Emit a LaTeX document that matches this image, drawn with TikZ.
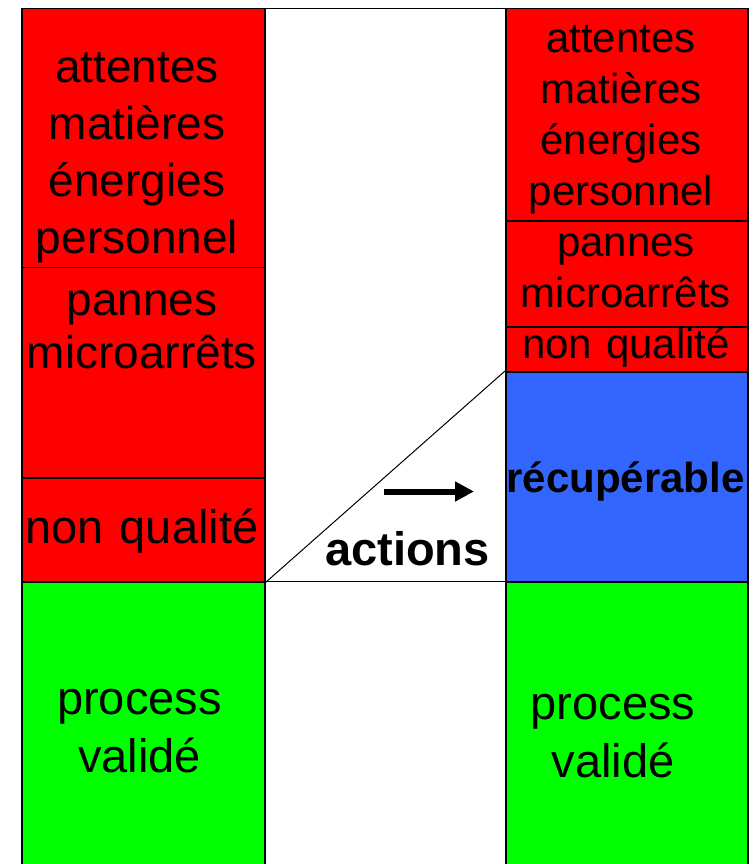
\documentclass[tikz,border=0pt]{standalone}
\usepackage{fontspec}
\setmainfont{Liberation Sans}
\usetikzlibrary{arrows.meta}
\definecolor{rred}{RGB}{255,0,0}
\definecolor{ggreen}{RGB}{0,255,0}
\definecolor{bblue}{RGB}{51,102,255}
\tikzset{
  box/.style={draw=black, line width=1.5pt, inner sep=0pt, anchor=north west},
  lbl/.style={inner sep=0pt, text width=300pt, align=center, anchor=base},
}
\begin{document}
\begin{tikzpicture}[x=1pt,y=-1pt]
\useasboundingbox (0,0) rectangle (753,864);
% middle column
\node[draw=black, line width=0.8pt, inner sep=0pt, anchor=north west, minimum width=241pt, minimum height=573pt] (M) at (264,8) {};
% left column
\node[box, fill=rred, minimum width=243pt, minimum height=258.5pt] (L1) at (21,8) {};
\node[box, fill=rred, minimum width=243pt, minimum height=210.5pt] (L2) at (21,266.5) {};
\node[box, fill=rred, minimum width=243pt, minimum height=104pt] (L3) at (21,477) {};
\node[box, fill=ggreen, minimum width=243pt, minimum height=290pt] (L4) at (21,581) {};
% right column
\node[box, fill=rred, minimum width=242pt, minimum height=212pt] (R1) at (505,8) {};
\node[box, fill=rred, minimum width=242pt, minimum height=106pt] (R2) at (505,220) {};
\node[box, fill=rred, minimum width=242pt, minimum height=45pt] (R3) at (505,326) {};
\node[box, fill=bblue, minimum width=242pt, minimum height=210pt] (R4) at (505,371) {};
\node[box, fill=ggreen, minimum width=242pt, minimum height=290pt] (R5) at (505,581) {};
% diagonal
\draw[line width=1pt] (L3.south east) -- (R4.north west);
% arrow
\coordinate (a1) at (384,491.5);
\coordinate (a2) at (474,491.5);
\draw[line width=6pt, -{Triangle[length=19pt,width=19pt]}] (a1) -- (a2);
% labels left
\node[lbl, font=\fontsize{46}{57}\selectfont] (tL1) at (137,82.7) {attentes\\matières\\énergies\\personnel};
\node[lbl, font=\fontsize{46}{53}\selectfont] (tL2) at (142,315) {pannes\\microarrêts};
\node[lbl, font=\fontsize{47}{57}\selectfont] (tL3) at (142,543.3) {non qualité};
\node[lbl, font=\fontsize{47}{58}\selectfont] (tL4) at (139.5,714) {process\\validé};
% labels right
\node[lbl, font=\fontsize{42}{51.1}\selectfont] (tR1) at (621,52.5) {attentes\\matières\\énergies\\personnel};
\node[lbl, font=\fontsize{42}{50.6}\selectfont] (tR2) at (626,256.7) {pannes\\microarrêts};
\node[lbl, font=\fontsize{42}{50}\selectfont] (tR3) at (626,358) {non qualité};
\node[lbl, font=\bfseries\fontsize{42}{50}\selectfont] (tR4) at (625.5,492.7) {récupérable};
\node[lbl, font=\fontsize{47}{58}\selectfont] (tR5) at (613,719) {process\\validé};
% middle label
\node[lbl, font=\bfseries\fontsize{47}{56}\selectfont] (tA) at (407.5,565) {actions};
\end{tikzpicture}
\end{document}
